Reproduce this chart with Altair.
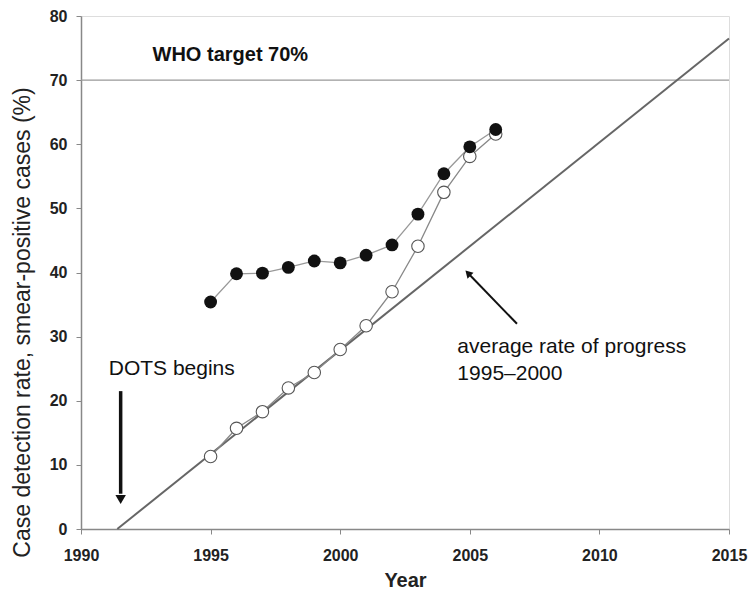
import altair as alt
import pandas as pd

years = [1995, 1996, 1997, 1998, 1999, 2000, 2001, 2002, 2003, 2004, 2005, 2006]
filled_vals = [35.4, 39.8, 39.9, 40.8, 41.8, 41.5, 42.7, 44.3, 49.1, 55.4, 59.6, 62.3]
open_vals = [11.3, 15.7, 18.3, 22.0, 24.4, 28.0, 31.7, 37.0, 44.1, 52.5, 58.1, 61.6]
trend_years = [1991.4, 2015.0]
trend_vals = [0.0, 76.5]
target = 70
x_ticks = [1990, 1995, 2000, 2005, 2010, 2015]
y_ticks = [0, 10, 20, 30, 40, 50, 60, 70, 80]

FONT = "Liberation Sans"

df_f = pd.DataFrame({"year": years, "rate": filled_vals})
df_o = pd.DataFrame({"year": years, "rate": open_vals})
df_t = pd.DataFrame({"year": trend_years, "rate": trend_vals})

xs = alt.Scale(domain=[1990, 2015], nice=False, zero=False)
ys = alt.Scale(domain=[0, 80], nice=False)

X = alt.X("year:Q", scale=xs, title="Year",
          axis=alt.Axis(values=x_ticks, format="d", grid=False, tickSize=5,
                        labelPadding=13, labelFontSize=16, labelFontWeight="bold",
                        labelFont=FONT, labelColor="#222", titleFont=FONT,
                        titleFontSize=20, titleFontWeight="bold", titleColor="#222",
                        titleY=51, titleBaseline="middle",
                        domainColor="#888", tickColor="#888", domainWidth=1.5,
                        labelFlush=False))
Y = alt.Y("rate:Q", scale=ys, title="Case detection rate, smear-positive cases  (%)",
          axis=alt.Axis(values=y_ticks, grid=False, tickSize=5, labelPadding=9,
                        labelFontSize=16, labelFontWeight="bold", labelFont=FONT,
                        labelColor="#222", titleFont=FONT, titleFontSize=23,
                        titleFontWeight="normal", titleColor="#222",
                        titleX=-59, titleY=306, titleBaseline="middle",
                        domainColor="#888", tickColor="#888", domainWidth=1.5))

trend = alt.Chart(df_t).mark_line(color="#666", strokeWidth=2).encode(x=X, y=Y)

target_rule = alt.Chart(pd.DataFrame({"rate": [target]})).mark_rule(
    color="#999", strokeWidth=1.2).encode(y=alt.Y("rate:Q", scale=ys))

line_f = alt.Chart(df_f).mark_line(color="#999", strokeWidth=1.3).encode(x=X, y=Y)
line_o = alt.Chart(df_o).mark_line(color="#888", strokeWidth=1.3).encode(x=X, y=Y)
pts_o = alt.Chart(df_o).mark_point(shape="circle", filled=True, fill="white",
                                   stroke="#555", strokeWidth=1.1, size=155,
                                   opacity=1).encode(x=X, y=Y)
pts_f = alt.Chart(df_f).mark_point(shape="circle", filled=True, color="#111",
                                   size=165, opacity=1).encode(x=X, y=Y)

labels = pd.DataFrame({
    "year": [1992.76, 1991.07, 2004.52, 2004.52],
    "rate": [73.9, 25.0, 28.4, 24.2],
    "text": ["WHO target 70%", "DOTS begins", "average rate of progress", "1995\u20132000"],
    "weight": ["bold", "normal", "normal", "normal"],
})
txt_bold = alt.Chart(labels[labels.weight == "bold"]).mark_text(
    align="left", baseline="middle", font=FONT, fontSize=20, fontWeight="bold",
    color="#111").encode(x=alt.X("year:Q", scale=xs), y=alt.Y("rate:Q", scale=ys), text="text:N")
txt_norm = alt.Chart(labels[labels.weight == "normal"]).mark_text(
    align="left", baseline="middle", font=FONT, fontSize=21, fontWeight="normal",
    color="#111").encode(x=alt.X("year:Q", scale=xs), y=alt.Y("rate:Q", scale=ys), text="text:N")

# DOTS arrow
dots_shaft = alt.Chart(pd.DataFrame({"year": [1991.53], "r1": [21.5], "r2": [5.5]})).mark_rule(
    color="#111", strokeWidth=3.5).encode(x=alt.X("year:Q", scale=xs),
                                          y=alt.Y("r1:Q", scale=ys), y2="r2:Q")
dots_head = alt.Chart(pd.DataFrame({"year": [1991.53], "rate": [4.6]})).mark_point(
    shape="triangle-down", filled=True, color="#111", size=110, opacity=1).encode(
    x=alt.X("year:Q", scale=xs), y=alt.Y("rate:Q", scale=ys))

# progress arrow
prog_shaft = alt.Chart(pd.DataFrame({"x1": [2006.82], "x2": [2005.0], "r1": [32.0], "r2": [39.6]})).mark_rule(
    color="#111", strokeWidth=2).encode(x=alt.X("x1:Q", scale=xs), x2="x2:Q",
                                        y=alt.Y("r1:Q", scale=ys), y2="r2:Q")
prog_head = alt.Chart(pd.DataFrame({"year": [2004.93], "rate": [39.9]})).mark_point(
    shape="triangle-up", filled=True, color="#111", size=70, angle=316, opacity=1).encode(
    x=alt.X("year:Q", scale=xs), y=alt.Y("rate:Q", scale=ys))

chart = alt.layer(
    target_rule, trend, line_f, line_o, pts_o, pts_f,
    txt_bold, txt_norm, dots_shaft, dots_head, prog_shaft, prog_head
).properties(
    width=648, height=513,
    autosize=alt.AutoSizeParams(type="none"),
    padding={"left": 73, "top": 8, "right": 19, "bottom": 62},
).configure_view(stroke="#888", strokeWidth=1.5).configure(background="white")

chart.save("out.html", embed_options={"renderer": "svg", "actions": False})
